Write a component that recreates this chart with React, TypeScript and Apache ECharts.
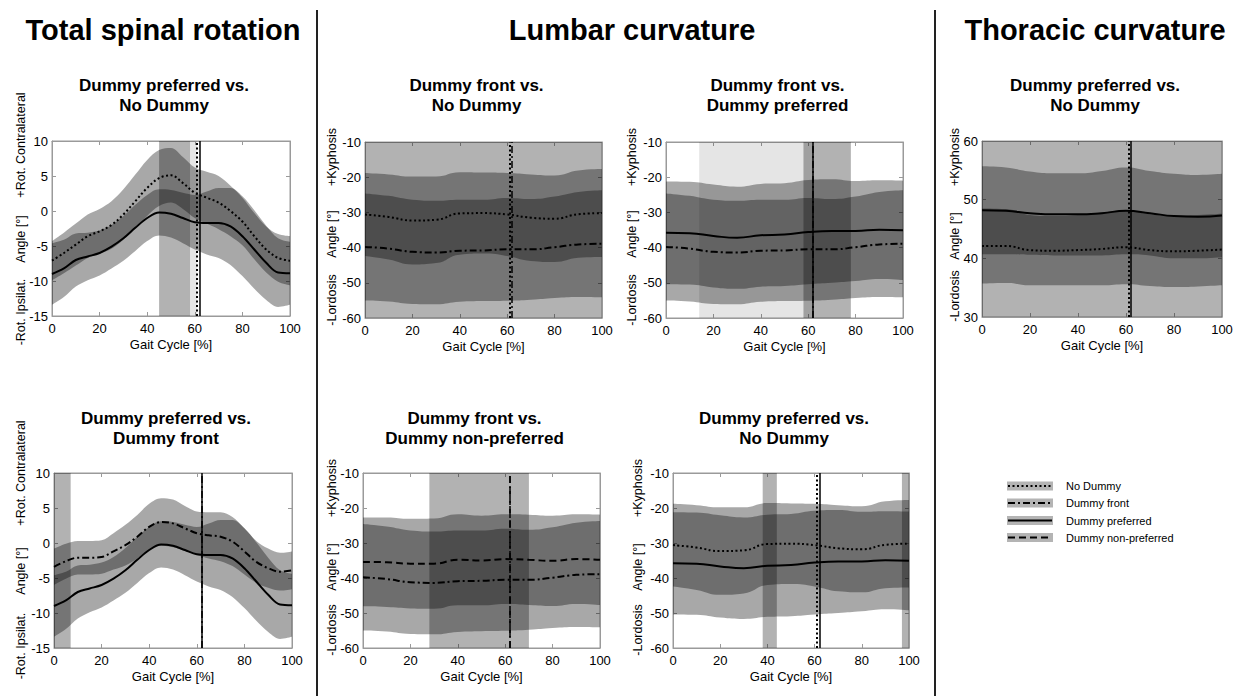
import React, { useEffect, useRef } from "react";
import * as echarts from "echarts";

// ---------------- DATA ----------------
const gait5 = [0, 5, 10, 15, 20, 25, 30, 35, 40, 45, 50, 55, 60, 65, 70, 75, 80, 85, 90, 95, 100];
const gait10 = [0, 10, 20, 30, 40, 50, 60, 70, 80, 90, 100];

// Total spinal rotation (deg)
const rotNoDummyMean = [-7.1, -6.0, -4.8, -3.6, -2.9, -2.0, -0.5, 1.4, 3.3, 4.7, 5.1, 4.0, 2.6, 1.9, 1.2, 0.0, -1.5, -3.6, -5.5, -6.7, -7.1];
const rotNoDummySD = [2.8, 2.9, 3.0, 3.1, 3.2, 3.4, 3.6, 3.8, 4.0, 4.0, 3.9, 3.7, 3.6, 3.7, 3.8, 3.6, 3.4, 3.3, 3.3, 3.4, 3.5];
const rotPrefMean = [-9.0, -8.2, -7.0, -6.5, -6.0, -5.1, -3.9, -2.4, -1.0, -0.2, -0.4, -1.0, -1.6, -1.7, -1.7, -2.2, -3.6, -5.5, -7.4, -8.8, -8.9];
const rotPrefSD = [4.4, 4.1, 3.8, 3.4, 3.2, 3.1, 3.2, 3.3, 3.3, 3.3, 3.4, 3.6, 3.9, 4.5, 5.0, 5.5, 5.7, 5.6, 5.3, 4.9, 4.5];
const rotFrontMean = [-3.4, -2.6, -2.1, -2.1, -2.0, -1.2, -0.3, 0.9, 2.3, 3.0, 2.8, 2.1, 1.4, 1.1, 0.9, 0.2, -1.2, -2.7, -3.6, -4.1, -3.9];
const rotFrontSD = [2.6, 2.5, 2.4, 2.4, 2.4, 2.6, 2.9, 3.1, 3.3, 3.4, 3.4, 3.2, 3.1, 3.3, 3.5, 3.5, 3.3, 3.0, 2.8, 2.7, 2.7];

// Lumbar curvature (deg)
const lumNoDummyMean = [-30.6, -31.3, -32.3, -32.1, -30.3, -30.2, -30.6, -31.5, -31.8, -30.5, -30.2];
const lumNoDummySD = [11.8, 12.1, 12.5, 12.3, 11.7, 11.5, 11.8, 12.3, 12.3, 12.4, 12.5];
const lumFrontMean = [-39.8, -40.3, -41.2, -41.4, -40.9, -40.8, -40.5, -40.5, -39.9, -39.1, -38.9];
const lumFrontSD = [15.2, 15.0, 14.8, 14.7, 14.5, 14.4, 14.6, 14.3, 14.4, 14.9, 15.2];
const lumPrefMean = [-35.8, -35.9, -36.7, -37.2, -36.5, -36.3, -35.6, -35.3, -35.3, -34.9, -35.1];
const lumPrefSD = [14.6, 14.6, 14.6, 14.5, 14.6, 14.6, 14.8, 14.7, 14.2, 14.0, 14.1];
const lumNonPrefMean = [-35.4, -35.5, -35.9, -35.9, -34.8, -35.0, -34.6, -34.8, -35.1, -34.6, -34.8];
const lumNonPrefSD = [12.7, 12.8, 12.8, 12.9, 13.0, 12.8, 12.8, 12.9, 12.9, 12.8, 12.9];

// Thoracic curvature (deg)
const thorPrefMean = [48.2, 48.1, 47.7, 47.5, 47.5, 47.7, 48.1, 47.7, 47.2, 47.1, 47.3];
const thorPrefSD = [7.5, 7.4, 7.1, 7.0, 7.0, 7.2, 7.4, 7.2, 7.2, 7.1, 7.1];
const thorNoDummyMean = [42.1, 42.1, 41.4, 41.3, 41.4, 41.6, 41.9, 41.4, 41.2, 41.3, 41.5];
const thorNoDummySD = [6.4, 6.3, 6.0, 5.9, 6.0, 6.2, 6.3, 6.1, 6.1, 6.1, 6.1];

// Toe-off (% gait cycle)
const toeOffNoDummy = 61;
const toeOffDummy = 62;

// Significant regions (% gait cycle)
const sigRotPrefVsNo = [[45, 58]];
const sigRotPrefVsNoWeak = [[58, 61]];
const sigLumFrontVsNo = [[0, 100]];
const sigLumFrontVsPref = [[58, 78]];
const sigLumFrontVsPrefWeak = [[14, 62]];
const sigThorPrefVsNo = [[0, 100]];
const sigRotPrefVsFront = [[0, 7]];
const sigLumFrontVsNonPref = [[28, 70]];
const sigLumPrefVsNo = [[38, 44], [97, 100]];

const rotTicks = { min: -15, max: 10, interval: 5 };
const lumTicks = { min: -60, max: -10, interval: 10 };
const thorTicks = { min: 30, max: 60, interval: 10 };

const legendNames = ["No Dummy", "Dummy front", "Dummy preferred", "Dummy non-preferred"];

// ---------------- STYLE / LAYOUT ----------------
const FONT = '"Liberation Sans", Arial, Helvetica, sans-serif';
const AXIS_GRAY = "#9a9a9a";
const BAND = "rgba(0,0,0,0.34)";
const SPAN = "rgba(0,0,0,0.30)";
const SPAN_WEAK = "rgba(0,0,0,0.10)";

const lineType: Record<string, any> = {
  noDummy: [2, 2.5],
  front: [7, 3, 2, 3],
  pref: "solid",
  nonPref: [7, 4],
};
const toeOf: Record<string, number> = {
  noDummy: toeOffNoDummy,
  front: toeOffDummy,
  pref: toeOffDummy,
  nonPref: toeOffDummy,
};

type Curve = [string, number[], number[]];
interface Panel {
  grid: { left: number; top: number; width: number; height: number };
  x: number[];
  curves: Curve[];
  ticks: { min: number; max: number; interval: number };
  spans: number[][];
  weak: number[][];
  title: string[];
  titleY: number[];
  ylab: { x: number; items: [string, number][] };
}

const rotLab = (x: number, a: number, b: number, c: number) => ({
  x,
  items: [["+Rot. Contralateral", a], ["Angle [°]", b], ["-Rot. Ipsilat.", c]] as [string, number][],
});
const curvLab = (x: number, a: number, b: number, c: number) => ({
  x,
  items: [["+Kyphosis", a], ["Angle [°]", b], ["-Lordosis", c]] as [string, number][],
});

const panels: Panel[] = [
  {
    grid: { left: 52, top: 141, width: 238, height: 175 },
    x: gait5,
    curves: [["noDummy", rotNoDummyMean, rotNoDummySD], ["pref", rotPrefMean, rotPrefSD]],
    ticks: rotTicks, spans: sigRotPrefVsNo, weak: sigRotPrefVsNoWeak,
    title: ["Dummy preferred vs.", "No Dummy"], titleY: [85, 105],
    ylab: rotLab(21, 145, 239, 312),
  },
  {
    grid: { left: 365, top: 142, width: 237, height: 176 },
    x: gait10,
    curves: [["noDummy", lumNoDummyMean, lumNoDummySD], ["front", lumFrontMean, lumFrontSD]],
    ticks: lumTicks, spans: sigLumFrontVsNo, weak: [],
    title: ["Dummy front vs.", "No Dummy"], titleY: [85, 105],
    ylab: curvLab(332, 157, 234, 300),
  },
  {
    grid: { left: 666, top: 142, width: 237, height: 176 },
    x: gait10,
    curves: [["pref", lumPrefMean, lumPrefSD], ["front", lumFrontMean, lumFrontSD]],
    ticks: lumTicks, spans: sigLumFrontVsPref, weak: sigLumFrontVsPrefWeak,
    title: ["Dummy front vs.", "Dummy preferred"], titleY: [85, 105],
    ylab: curvLab(632, 157, 234, 300),
  },
  {
    grid: { left: 982, top: 141, width: 240, height: 176 },
    x: gait10,
    curves: [["noDummy", thorNoDummyMean, thorNoDummySD], ["pref", thorPrefMean, thorPrefSD]],
    ticks: thorTicks, spans: sigThorPrefVsNo, weak: [],
    title: ["Dummy preferred vs.", "No Dummy"], titleY: [85, 105],
    ylab: curvLab(955, 157, 236, 296),
  },
  {
    grid: { left: 54, top: 473, width: 238, height: 175 },
    x: gait5,
    curves: [["front", rotFrontMean, rotFrontSD], ["pref", rotPrefMean, rotPrefSD]],
    ticks: rotTicks, spans: sigRotPrefVsFront, weak: [],
    title: ["Dummy preferred vs.", "Dummy front"], titleY: [418, 438],
    ylab: rotLab(21, 473, 571, 646),
  },
  {
    grid: { left: 363, top: 473, width: 237, height: 175 },
    x: gait10,
    curves: [["nonPref", lumNonPrefMean, lumNonPrefSD], ["front", lumFrontMean, lumFrontSD]],
    ticks: lumTicks, spans: sigLumFrontVsNonPref, weak: [],
    title: ["Dummy front vs.", "Dummy non-preferred"], titleY: [418, 438],
    ylab: curvLab(332, 488, 567, 630),
  },
  {
    grid: { left: 673, top: 473, width: 236, height: 175 },
    x: gait10,
    curves: [["noDummy", lumNoDummyMean, lumNoDummySD], ["pref", lumPrefMean, lumPrefSD]],
    ticks: lumTicks, spans: sigLumPrefVsNo, weak: [],
    title: ["Dummy preferred vs.", "No Dummy"], titleY: [418, 438],
    ylab: curvLab(638, 488, 567, 630),
  },
];

const text = (x: number, y: number, t: string, size: number, bold: boolean, rotation = 0, align = "center") => ({
  type: "text",
  x,
  y,
  rotation,
  silent: true,
  style: {
    text: t,
    fontSize: size,
    fontWeight: bold ? "bold" : "normal",
    fontFamily: FONT,
    fill: "#000",
    align,
    verticalAlign: "middle",
  },
});

function buildOption() {
  const grid: any[] = [];
  const xAxis: any[] = [];
  const yAxis: any[] = [];
  const series: any[] = [];
  const graphic: any[] = [];

  const axisCommon = {
    axisLine: { show: true, onZero: false, lineStyle: { color: AXIS_GRAY, width: 1 } },
    axisTick: { show: true, inside: true, length: 4, lineStyle: { color: AXIS_GRAY } },
    splitLine: { show: false },
  };
  const labelStyle = { color: "#000", fontSize: 13, fontFamily: FONT };

  panels.forEach((p, i) => {
    grid.push({ ...p.grid, show: true, borderColor: AXIS_GRAY, borderWidth: 1, backgroundColor: "transparent" });
    // 3i: value bottom, 3i+1: value top (ticks), 3i+2: hidden category axis for the SD bands
    xAxis.push({
      gridIndex: i, type: "value", min: 0, max: 100, interval: 20, position: "bottom", ...axisCommon,
      axisLabel: { ...labelStyle, margin: 6 },
      name: "Gait Cycle [%]", nameLocation: "middle", nameGap: 22,
      nameTextStyle: { ...labelStyle },
    });
    xAxis.push({
      gridIndex: i, type: "value", min: 0, max: 100, interval: 20, position: "top", ...axisCommon,
      axisLabel: { show: false },
    });
    xAxis.push({
      gridIndex: i, type: "category", data: p.x.map(String), boundaryGap: false, show: false,
      axisLine: { show: false, onZero: false },
    });
    yAxis.push({
      gridIndex: i, type: "value", ...p.ticks, position: "left", ...axisCommon,
      axisLabel: { ...labelStyle, margin: 4 },
    });
    yAxis.push({
      gridIndex: i, type: "value", ...p.ticks, position: "right", ...axisCommon,
      axisLabel: { show: false },
    });
    const xv = 3 * i;
    const xc = 3 * i + 2;
    const yi = 2 * i;
    const sm = p.x.length > 12 ? 0.35 : 0.5;

    p.curves.forEach(([key, mean, sd], c) => {
      const stack = `band_${i}_${c}`;
      series.push({
        type: "line", xAxisIndex: xc, yAxisIndex: yi, stack, stackStrategy: "all", smooth: sm, symbol: "none", silent: true,
        lineStyle: { opacity: 0, width: 0 }, z: 2,
        data: mean.map((m, k) => m - sd[k]),
      });
      series.push({
        type: "line", xAxisIndex: xc, yAxisIndex: yi, stack, stackStrategy: "all", smooth: sm, symbol: "none", silent: true,
        lineStyle: { opacity: 0, width: 0 }, areaStyle: { color: BAND, opacity: 1 }, z: 2,
        data: sd.map((s) => 2 * s),
      });
    });

    const toeLines = p.curves
      .map(([key]) => ({
        xAxis: toeOf[key],
        lineStyle: { color: "#000", width: key === "noDummy" ? 2 : 1.5, type: lineType[key] },
      }))
      .sort((a, b) => (a.lineStyle.type === "solid" ? 1 : 0) - (b.lineStyle.type === "solid" ? 1 : 0));

    const spans = [
      ...p.weak.map((s) => [{ xAxis: s[0], itemStyle: { color: SPAN_WEAK } }, { xAxis: s[1] }]),
      ...p.spans.map((s) => [{ xAxis: s[0], itemStyle: { color: SPAN } }, { xAxis: s[1] }]),
    ];

    p.curves.forEach(([key, mean], c) => {
      const s: any = {
        type: "line", xAxisIndex: xv, yAxisIndex: yi, smooth: sm, symbol: "none", silent: true, z: 4,
        lineStyle: { color: "#000", width: 2, type: lineType[key] },
        data: p.x.map((x, k) => [x, mean[k]]),
      };
      if (c === 0) {
        s.markArea = { silent: true, data: spans, itemStyle: { color: SPAN } };
        s.markLine = {
          silent: true, symbol: ["none", "none"], label: { show: false },
          data: toeLines,
        };
      }
      series.push(s);
    });

    // subtitles
    const cx = p.grid.left + p.grid.width / 2 - 7;
    p.title.forEach((t, k) => graphic.push(text(cx, p.titleY[k], t, 17, true)));
    // y-axis labels
    p.ylab.items.forEach(([t, y]) => graphic.push(text(p.ylab.x, y, t, 12.5, false, Math.PI / 2)));
  });

  // main headings
  graphic.push(text(163, 30, "Total spinal rotation", 29, true));
  graphic.push(text(632, 30, "Lumbar curvature", 29, true));
  graphic.push(text(1095, 30, "Thoracic curvature", 29, true));

  // separators
  [317, 935].forEach((x) =>
    graphic.push({ type: "line", silent: true, shape: { x1: x, y1: 10, x2: x, y2: 696 }, style: { stroke: "#222", lineWidth: 2 } })
  );

  // legend
  const legKeys = ["noDummy", "front", "pref", "nonPref"];
  const legY = [486, 503, 520.5, 537.5];
  legKeys.forEach((k, r) => {
    const y = legY[r];
    graphic.push({ type: "rect", silent: true, shape: { x: 1007, y: y - 4.5, width: 46, height: 9 }, style: { fill: "#b4b4b4" } });
    const lt = lineType[k];
    graphic.push({
      type: "line", silent: true, shape: { x1: 1008, y1: y, x2: 1052, y2: y },
      style: { stroke: "#000", lineWidth: 2, lineDash: lt === "solid" ? null : lt },
    });
    graphic.push(text(1066, y, legendNames[r], 11, false, 0, "left"));
  });

  return {
    animation: false,
    backgroundColor: "#fff",
    grid,
    xAxis,
    yAxis,
    series,
    graphic,
  };
}

export default function App() {
  const ref = useRef<HTMLDivElement>(null);
  useEffect(() => {
    if (!ref.current) return;
    const chart = echarts.init(ref.current, null, { renderer: "svg" });
    chart.setOption(buildOption() as any);
    return () => chart.dispose();
  }, []);
  return (
    <div
      ref={ref}
      style={{ position: "fixed", left: 0, top: 0, width: 1237, height: 696, background: "#fff" }}
    />
  );
}
